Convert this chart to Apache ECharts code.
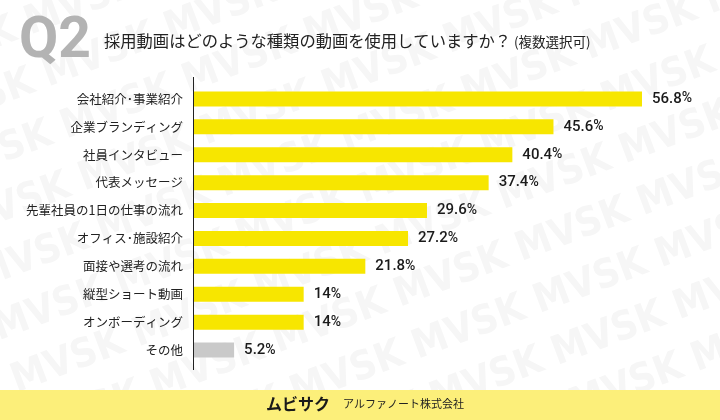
<!DOCTYPE html>
<html>
<head>
<meta charset="utf-8">
<script src="https://cdn.jsdelivr.net/npm/echarts@6/dist/echarts.min.js"></script>
<style>
  html, body { margin: 0; padding: 0; background: #fff; }
  #main { width: 720px; height: 420px; }
</style>
</head>
<body>
<div id="main"></div>
<script>
// 設問ラベル
var categories = ['会社紹介･事業紹介', '企業ブランディング', '社員インタビュー', '代表メッセージ',
    '先輩社員の1日の仕事の流れ', 'オフィス･施設紹介', '面接や選考の流れ', '縦型ショート動画',
    'オンボーディング', 'その他'];
// 回答率(%)
var values = [56.8, 45.6, 40.4, 37.4, 29.6, 27.2, 21.8, 14, 14, 5.2];

var titleQ = 'Q2';
var question = '採用動画はどのような種類の動画を使用していますか？';
var questionNote = '(複数選択可)';
var brand = 'ムビサク';
var company = 'アルファノート株式会社';

var chart = echarts.init(document.getElementById('main'));

// 背景の透かし文字
var watermark = [];
for (var r = -4; r < 12; r++) {
    watermark.push({
        type: 'text',
        x: -120 + r * 18,
        y: r * 52,
        rotation: 0.36,
        z: 0,
        silent: true,
        style: {
            text: 'MVSK MVSK MVSK MVSK MVSK MVSK MVSK MVSK MVSK',
            font: 'bold 40px "DejaVu Sans Condensed", "Roboto", sans-serif',
            fill: '#f6f6f6'
        }
    });
}

var options = {
    backgroundColor: '#fff',
    animation: false,
    grid: { left: 193, right: 78, top: 85, bottom: 56, containLabel: false },
    xAxis: {
        type: 'value',
        min: 0,
        max: 56.8,
        show: false
    },
    yAxis: {
        type: 'category',
        data: categories,
        inverse: true,
        axisLine: { show: false },
        axisTick: { show: false },
        axisLabel: {
            margin: 10,
            color: '#222',
            fontSize: 12.5,
            fontFamily: '"Noto Sans CJK JP", sans-serif'
        }
    },
    series: [{
        type: 'bar',
        data: values,
        barWidth: 15,
        z: 5,
        itemStyle: {
            color: function (p) {
                return p.name === 'その他' ? '#c9c9c9' : '#f7e600';
            }
        },
        label: {
            show: true,
            position: 'right',
            distance: 10,
            formatter: function (p) { return '{v|' + p.value + '}{p|%}'; },
            rich: {
                v: { fontSize: 15, fontWeight: 500, color: '#1a1a1a', fontFamily: 'Roboto, sans-serif' },
                p: { fontSize: 14, fontWeight: 500, color: '#1a1a1a', fontFamily: 'Roboto, sans-serif' }
            }
        }
    }],
    graphic: watermark.concat([
        {
            type: 'line', z: 10,
            shape: { x1: 193.5, y1: 77, x2: 193.5, y2: 370 },
            style: { stroke: '#222', lineWidth: 1 }
        },
        {
            type: 'text', z: 10, x: 19, y: 14,
            style: { text: titleQ, font: 'bold 57px Roboto, sans-serif', fill: '#b3b3b3' }
        },
        {
            type: 'text', z: 10, x: 104, y: 33,
            style: { text: question, font: '16.3px "Noto Sans CJK JP", sans-serif', fill: '#222' }
        },
        {
            type: 'text', z: 10, x: 514, y: 35,
            style: { text: questionNote, font: '13.5px "Noto Sans CJK JP", sans-serif', fill: '#222' }
        },
        {
            type: 'rect', z: 10,
            shape: { x: 0, y: 390, width: 720, height: 30 },
            style: { fill: '#fcef7a' }
        },
        {
            type: 'text', z: 11, x: 266, y: 396,
            style: { text: brand, font: 'bold 16px "Noto Sans CJK JP", sans-serif', fill: '#1a1a1a' }
        },
        {
            type: 'text', z: 11, x: 343, y: 398,
            style: { text: company, font: '11px "Noto Sans CJK JP", sans-serif', fill: '#222' }
        }
    ])
};

chart.setOption(options);
window.onresize = chart.resize;
</script>
</body>
</html>
